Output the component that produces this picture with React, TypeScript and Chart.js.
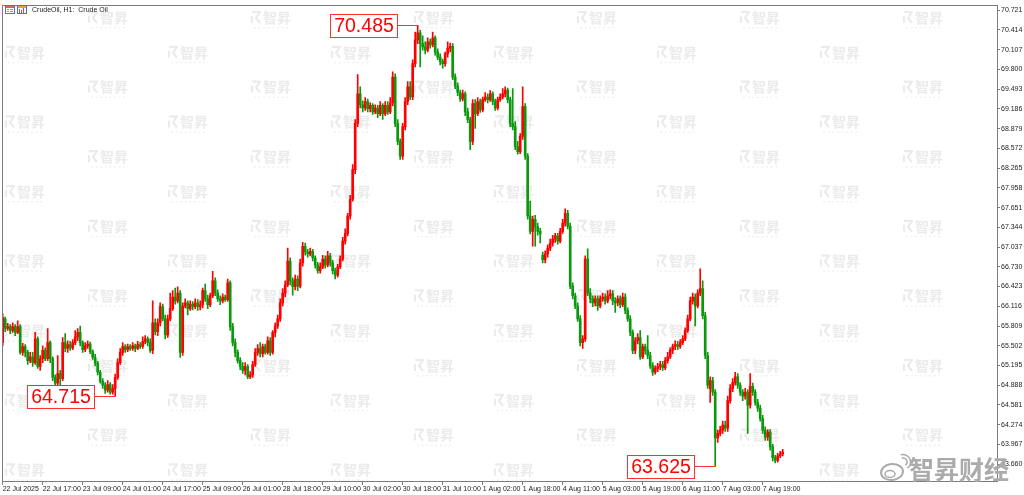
import React, { useEffect, useRef } from "react";
import { Chart, registerables } from "chart.js";

Chart.register(...registerables);

// ---- Data (CrudeOil, H1) ----
const opens = [
  65.55, 65.92, 65.77, 65.80, 65.74, 65.80, 65.71, 65.80, 65.40, 65.49,
  65.40, 65.27, 65.33, 65.24, 65.61, 65.18, 65.30, 65.43, 65.30, 65.55,
  65.30, 65.01, 64.92, 65.07, 64.99, 65.55, 65.46, 65.52, 65.47, 65.55,
  65.64, 65.71, 65.55, 65.44, 65.50, 65.53, 65.41, 65.32, 65.23, 65.09,
  64.95, 64.89, 64.81, 64.90, 64.78, 64.84, 65.01, 65.24, 65.40, 65.49,
  65.44, 65.49, 65.46, 65.50, 65.46, 65.52, 65.49, 65.57, 65.61, 65.55,
  65.43, 65.86, 65.72, 65.86, 66.11, 65.92, 65.67, 65.92, 66.08, 66.26,
  66.20, 66.32, 65.40, 66.12, 66.17, 66.08, 66.15, 66.11, 66.17, 66.11,
  66.14, 66.36, 66.23, 66.14, 66.28, 66.51, 66.32, 66.23, 66.20, 66.26,
  66.22, 66.48, 65.80, 65.55, 65.40, 65.27, 65.18, 65.12, 65.18, 65.02,
  65.05, 65.21, 65.40, 65.46, 65.38, 65.49, 65.40, 65.58, 65.40, 65.71,
  65.81, 65.92, 66.17, 66.32, 66.45, 66.82, 66.51, 66.42, 66.54, 66.43,
  66.79, 67.05, 66.96, 66.93, 66.97, 66.87, 66.76, 66.67, 66.73, 66.85,
  66.76, 66.90, 66.79, 66.67, 66.60, 66.73, 66.85, 67.13, 67.25, 67.52,
  67.78, 68.24, 68.96, 69.42, 69.25, 69.20, 69.30, 69.19, 69.24, 69.14,
  69.20, 69.11, 69.24, 69.11, 69.24, 69.14, 69.28, 69.68, 68.96, 68.68,
  68.45, 68.91, 69.30, 69.53, 69.37, 69.89, 70.26, 70.37, 70.20, 70.15,
  70.10, 70.23, 70.18, 70.29, 70.07, 69.99, 69.92, 69.89, 70.04, 70.13,
  70.16, 69.68, 69.54, 69.44, 69.34, 69.42, 69.14, 69.02, 68.68, 69.27,
  69.11, 69.30, 69.17, 69.33, 69.37, 69.33, 69.42, 69.30, 69.20, 69.33,
  69.37, 69.42, 69.48, 69.33, 68.96, 68.91, 68.60, 68.52, 68.76, 69.22,
  68.45, 67.52, 67.28, 67.47, 67.35, 67.28, 66.91, 66.84, 66.93, 67.02,
  67.10, 67.16, 67.21, 67.13, 67.28, 67.41, 67.56, 67.36, 66.43, 66.28,
  66.12, 65.92, 65.55, 65.61, 66.85, 66.32, 66.23, 66.17, 66.23, 66.12,
  66.23, 66.26, 66.20, 66.28, 66.31, 66.20, 66.17, 66.23, 66.14, 66.26,
  66.05, 65.92, 65.71, 65.43, 65.58, 65.63, 65.33, 65.49, 65.43, 65.35,
  65.19, 65.09, 65.15, 65.18, 65.21, 65.16, 65.27, 65.33, 65.43, 65.49,
  65.52, 65.49, 65.55, 65.61, 65.74, 65.92, 66.20, 66.26, 66.12, 66.32,
  66.39, 65.97, 65.35, 64.84, 64.96, 64.78, 64.07, 64.14, 64.19, 64.27,
  64.22, 64.65, 64.84, 64.93, 65.02, 64.89, 64.78, 64.72, 64.78, 64.58,
  64.87, 64.78, 64.62, 64.53, 64.37, 64.19, 64.08, 64.16, 63.93, 63.76,
  63.72, 63.79, 63.82,
];

const highs = [
  66.00, 65.95, 65.85, 65.83, 65.86, 65.83, 65.89, 65.83, 65.54, 65.52,
  65.43, 65.40, 65.40, 65.71, 65.64, 65.35, 65.50, 65.47, 65.77, 65.58,
  65.33, 65.05, 65.35, 65.12, 65.63, 65.69, 65.58, 65.57, 65.60, 65.74,
  65.77, 65.81, 65.58, 65.55, 65.58, 65.56, 65.44, 65.37, 65.26, 65.12,
  64.99, 64.93, 64.96, 64.93, 64.90, 65.06, 65.30, 65.46, 65.55, 65.52,
  65.53, 65.52, 65.55, 65.53, 65.57, 65.55, 65.64, 65.66, 65.64, 65.61,
  66.20, 65.92, 65.92, 66.17, 66.15, 65.98, 65.98, 66.32, 66.36, 66.40,
  66.42, 66.36, 66.17, 66.23, 66.20, 66.20, 66.19, 66.23, 66.22, 66.20,
  66.40, 66.46, 66.29, 66.32, 66.66, 66.56, 66.37, 66.28, 66.31, 66.29,
  66.54, 66.51, 65.85, 65.61, 65.44, 65.32, 65.24, 65.24, 65.21, 65.10,
  65.26, 65.46, 65.52, 65.55, 65.53, 65.53, 65.64, 65.63, 65.74, 65.86,
  65.98, 66.23, 66.39, 66.51, 67.02, 66.87, 66.56, 66.60, 66.59, 66.85,
  67.11, 67.10, 67.00, 67.02, 67.00, 66.90, 66.80, 66.79, 66.91, 66.90,
  66.97, 66.94, 66.83, 66.71, 66.77, 66.90, 67.19, 67.32, 67.56, 67.84,
  68.32, 69.02, 69.72, 69.53, 69.31, 69.36, 69.34, 69.28, 69.27, 69.25,
  69.24, 69.30, 69.27, 69.30, 69.30, 69.36, 69.76, 69.73, 69.02, 68.72,
  68.96, 69.36, 69.61, 69.61, 69.95, 70.38, 70.485, 70.41, 70.32, 70.23,
  70.29, 70.27, 70.38, 70.32, 70.12, 70.04, 69.96, 70.07, 70.23, 70.21,
  70.20, 69.73, 69.59, 69.48, 69.48, 69.45, 69.20, 69.06, 69.33, 69.33,
  69.36, 69.34, 69.37, 69.44, 69.42, 69.47, 69.45, 69.34, 69.37, 69.42,
  69.50, 69.53, 69.51, 69.37, 69.50, 68.99, 68.68, 68.80, 69.53, 69.27,
  68.49, 67.75, 67.52, 67.53, 67.41, 67.33, 66.96, 66.98, 67.07, 67.16,
  67.22, 67.25, 67.25, 67.33, 67.47, 67.63, 67.61, 67.41, 66.48, 66.32,
  66.17, 65.97, 65.66, 66.90, 67.01, 66.39, 66.28, 66.28, 66.28, 66.28,
  66.32, 66.31, 66.36, 66.37, 66.36, 66.25, 66.28, 66.28, 66.32, 66.31,
  66.09, 65.97, 65.75, 65.63, 65.69, 65.74, 65.53, 65.53, 65.66, 65.40,
  65.24, 65.19, 65.23, 65.26, 65.26, 65.32, 65.40, 65.47, 65.53, 65.58,
  65.57, 65.60, 65.66, 65.78, 65.98, 66.26, 66.32, 66.31, 66.37, 66.70,
  66.51, 66.02, 65.40, 65.02, 65.01, 64.82, 64.19, 64.25, 64.33, 64.33,
  64.72, 64.90, 64.99, 65.09, 65.07, 64.93, 64.82, 64.84, 64.82, 65.07,
  64.92, 64.82, 64.67, 64.58, 64.42, 64.24, 64.20, 64.20, 63.97, 63.80,
  63.83, 63.86, 63.89,
];

const lows = [
  65.50, 65.72, 65.74, 65.69, 65.71, 65.66, 65.69, 65.37, 65.35, 65.33,
  65.21, 65.24, 65.18, 65.21, 65.15, 65.12, 65.24, 65.27, 65.27, 65.24,
  64.96, 64.87, 64.89, 64.81, 64.96, 65.41, 65.40, 65.43, 65.44, 65.52,
  65.58, 65.50, 65.40, 65.41, 65.46, 65.38, 65.29, 65.19, 65.05, 64.92,
  64.84, 64.76, 64.78, 64.75, 64.75, 64.715, 64.98, 65.21, 65.35, 65.40,
  65.41, 65.43, 65.43, 65.41, 65.44, 65.46, 65.46, 65.53, 65.50, 65.40,
  65.38, 65.67, 65.66, 65.81, 65.89, 65.61, 65.63, 65.89, 66.05, 66.15,
  66.17, 65.32, 65.35, 66.09, 65.98, 66.05, 66.06, 66.08, 66.05, 66.06,
  66.09, 66.19, 66.08, 66.11, 66.25, 66.28, 66.19, 66.14, 66.17, 66.19,
  66.19, 65.74, 65.50, 65.33, 65.23, 65.13, 65.07, 65.05, 64.99, 64.99,
  65.01, 65.18, 65.35, 65.33, 65.33, 65.37, 65.37, 65.35, 65.37, 65.64,
  65.77, 65.88, 66.12, 66.26, 66.42, 66.45, 66.29, 66.37, 66.36, 66.40,
  66.74, 66.91, 66.88, 66.90, 66.82, 66.71, 66.63, 66.63, 66.70, 66.71,
  66.73, 66.74, 66.62, 66.54, 66.57, 66.70, 66.82, 67.08, 67.21, 67.47,
  67.75, 68.18, 68.91, 69.20, 69.14, 69.16, 69.14, 69.14, 69.10, 69.11,
  69.05, 69.08, 69.02, 69.08, 69.10, 69.11, 69.23, 68.91, 68.63, 68.40,
  68.40, 68.86, 69.25, 69.33, 69.33, 69.84, 70.20, 69.84, 70.10, 70.04,
  70.07, 70.13, 70.15, 70.02, 69.95, 69.87, 69.82, 69.85, 69.99, 70.07,
  69.64, 69.50, 69.39, 69.30, 69.31, 69.08, 68.97, 68.55, 68.63, 68.88,
  69.08, 69.13, 69.14, 69.30, 69.28, 69.30, 69.25, 69.16, 69.17, 69.30,
  69.34, 69.37, 69.28, 68.91, 68.86, 68.55, 68.48, 68.49, 68.71, 68.40,
  67.47, 67.24, 67.05, 67.05, 67.22, 67.10, 66.79, 66.79, 66.88, 66.98,
  67.05, 67.11, 67.08, 67.10, 67.25, 67.36, 67.32, 66.39, 66.23, 66.08,
  65.88, 65.50, 65.46, 65.57, 66.28, 66.17, 66.11, 66.12, 66.05, 66.09,
  66.19, 66.15, 66.17, 66.23, 66.14, 66.02, 66.12, 66.09, 66.11, 66.00,
  65.88, 65.66, 65.38, 65.38, 65.53, 65.29, 65.30, 65.37, 65.30, 65.15,
  65.04, 65.06, 65.10, 65.13, 65.12, 65.13, 65.23, 65.30, 65.38, 65.44,
  65.44, 65.46, 65.52, 65.58, 65.71, 65.89, 66.15, 65.81, 66.09, 66.28,
  65.92, 65.30, 64.84, 64.62, 64.73, 63.625, 64.00, 64.10, 64.14, 64.17,
  64.17, 64.61, 64.79, 64.89, 64.84, 64.73, 64.65, 64.67, 64.14, 64.53,
  64.73, 64.58, 64.48, 64.33, 64.14, 64.03, 64.03, 63.88, 63.71, 63.68,
  63.69, 63.76, 63.79,
];

const closes = [
  65.94, 65.77, 65.80, 65.74, 65.80, 65.71, 65.80, 65.40, 65.49, 65.40,
  65.27, 65.33, 65.24, 65.61, 65.18, 65.30, 65.43, 65.30, 65.55, 65.30,
  65.01, 64.92, 65.07, 64.99, 65.55, 65.46, 65.52, 65.47, 65.55, 65.64,
  65.71, 65.55, 65.44, 65.50, 65.53, 65.41, 65.32, 65.23, 65.09, 64.95,
  64.89, 64.81, 64.90, 64.78, 64.84, 65.01, 65.24, 65.40, 65.49, 65.44,
  65.49, 65.46, 65.50, 65.46, 65.52, 65.49, 65.57, 65.61, 65.55, 65.43,
  65.86, 65.72, 65.86, 66.11, 65.92, 65.67, 65.92, 66.08, 66.26, 66.20,
  66.32, 65.40, 66.12, 66.17, 66.08, 66.15, 66.11, 66.17, 66.11, 66.14,
  66.36, 66.23, 66.14, 66.28, 66.51, 66.32, 66.23, 66.20, 66.26, 66.22,
  66.48, 65.80, 65.55, 65.40, 65.27, 65.18, 65.12, 65.18, 65.02, 65.05,
  65.21, 65.40, 65.46, 65.38, 65.49, 65.40, 65.58, 65.40, 65.71, 65.81,
  65.92, 66.17, 66.32, 66.45, 66.82, 66.51, 66.42, 66.54, 66.43, 66.79,
  67.05, 66.96, 66.93, 66.97, 66.87, 66.76, 66.67, 66.73, 66.85, 66.76,
  66.90, 66.79, 66.67, 66.60, 66.73, 66.85, 67.13, 67.25, 67.52, 67.78,
  68.24, 68.96, 69.42, 69.25, 69.20, 69.30, 69.19, 69.24, 69.14, 69.20,
  69.11, 69.24, 69.11, 69.24, 69.14, 69.28, 69.68, 68.96, 68.68, 68.45,
  68.91, 69.30, 69.53, 69.37, 69.89, 70.26, 70.37, 70.20, 70.15, 70.10,
  70.23, 70.18, 70.29, 70.07, 69.99, 69.92, 69.89, 70.04, 70.13, 70.16,
  69.68, 69.54, 69.44, 69.34, 69.42, 69.14, 69.02, 68.68, 69.27, 69.11,
  69.30, 69.17, 69.33, 69.37, 69.33, 69.42, 69.30, 69.20, 69.33, 69.37,
  69.42, 69.48, 69.33, 68.96, 68.91, 68.60, 68.52, 68.76, 69.22, 68.45,
  67.52, 67.28, 67.47, 67.35, 67.28, 67.24, 66.84, 66.93, 67.02, 67.10,
  67.16, 67.21, 67.13, 67.28, 67.41, 67.56, 67.36, 66.43, 66.28, 66.12,
  65.92, 65.55, 65.61, 66.85, 66.32, 66.23, 66.17, 66.23, 66.12, 66.23,
  66.26, 66.20, 66.28, 66.31, 66.20, 66.17, 66.23, 66.14, 66.26, 66.05,
  65.92, 65.71, 65.43, 65.58, 65.63, 65.33, 65.49, 65.43, 65.35, 65.19,
  65.09, 65.15, 65.18, 65.21, 65.16, 65.27, 65.33, 65.43, 65.49, 65.52,
  65.49, 65.55, 65.61, 65.74, 65.92, 66.20, 66.26, 66.12, 66.32, 66.39,
  65.97, 65.35, 64.89, 64.96, 64.78, 64.07, 64.14, 64.19, 64.27, 64.22,
  64.65, 64.84, 64.93, 65.02, 64.89, 64.78, 64.72, 64.78, 64.58, 64.87,
  64.78, 64.62, 64.53, 64.37, 64.19, 64.08, 64.16, 63.93, 63.76, 63.72,
  63.79, 63.82, 63.85,
];

const xTickLabels = [
  "22 Jul 2025", "22 Jul 17:00", "23 Jul 09:00", "24 Jul 01:00", "24 Jul 17:00",
  "25 Jul 09:00", "26 Jul 01:00", "28 Jul 18:00", "29 Jul 10:00", "30 Jul 02:00",
  "30 Jul 18:00", "31 Jul 10:00", "1 Aug 02:00", "1 Aug 18:00", "4 Aug 11:00",
  "5 Aug 03:00", "5 Aug 19:00", "6 Aug 11:00", "7 Aug 03:00", "7 Aug 19:00",
];
const xTickBarStep = 16;

const yTickLabels = [
  "70.721", "70.414", "70.107", "69.800", "69.493", "69.186", "68.879", "68.572",
  "68.265", "67.958", "67.651", "67.344", "67.037", "66.730", "66.423", "66.116",
  "65.809", "65.502", "65.195", "64.888", "64.581", "64.274", "63.967", "63.660",
];

// marked extremes: bar index and price
const markBars = [166, 45, 285];
const markPrices = [70.485, 64.715, 63.625];

const titleText = "CrudeOil, H1:  Crude Oil";
const logoText = "智昇财经";
const watermarkText = "智昇";

const UP = "#ff0000";
const DOWN = "#0c980c";
const FRAME = "#7c7c7c";
const FONT = "'Liberation Sans', Arial, sans-serif";
const CJK = "'Noto Sans CJK SC', sans-serif";

function drawWatermark(ctx: CanvasRenderingContext2D, cx: number, cy: number) {
  ctx.save();
  ctx.fillStyle = "#ebebeb";
  ctx.strokeStyle = "#ebebeb";
  ctx.lineWidth = 2.2;
  ctx.lineJoin = "round";
  // logo mark
  ctx.beginPath();
  ctx.moveTo(cx - 19, cy - 5);
  ctx.lineTo(cx - 11, cy - 5);
  ctx.lineTo(cx - 15, cy + 1);
  ctx.lineTo(cx - 11, cy + 6);
  ctx.stroke();
  ctx.beginPath();
  ctx.moveTo(cx - 19, cy - 1);
  ctx.lineTo(cx - 19, cy + 6);
  ctx.stroke();
  ctx.font = `bold 14px ${CJK}`;
  ctx.textAlign = "left";
  ctx.textBaseline = "middle";
  ctx.fillText(watermarkText, cx - 8, cy + 0.5);
  ctx.fillStyle = "#f1f1f1";
  for (let k = 0; k < 8; k++) {
    ctx.fillRect(cx - 17 + k * 4.6, cy + 10, 2, 1.5);
  }
  ctx.restore();
}

const decorPlugin = {
  id: "decor",
  beforeDatasetsDraw(chart: any) {
    const ctx: CanvasRenderingContext2D = chart.ctx;
    const a = chart.chartArea;
    ctx.save();
    ctx.beginPath();
    ctx.rect(a.left, a.top, a.right - a.left, a.bottom - a.top);
    ctx.clip();
    for (let r = 0; r < 14; r++) {
      const cy = 17 + r * 34.8;
      const x0 = r % 2 === 0 ? 108 : 25;
      for (let c = 0; c < 6; c++) {
        drawWatermark(ctx, x0 + c * 163, cy);
      }
    }
    ctx.restore();
  },
  afterDatasetsDraw(chart: any) {
    const ctx: CanvasRenderingContext2D = chart.ctx;
    const xs = chart.scales.x;
    const ys = chart.scales.y;
    const a = chart.chartArea;
    // frame
    ctx.save();
    ctx.strokeStyle = FRAME;
    ctx.lineWidth = 1;
    ctx.strokeRect(Math.round(a.left) + 0.5, Math.round(a.top) + 0.5, Math.round(a.right - a.left), Math.round(a.bottom - a.top));
    ctx.restore();
    // price marks
    markBars.forEach((bar, k) => {
      const price = markPrices[k];
      const px = xs.getPixelForValue(bar);
      const py = ys.getPixelForValue(price);
      const text = price.toFixed(3);
      ctx.save();
      ctx.font = `19.5px ${FONT}`;
      const tw = ctx.measureText(text).width;
      const boxW = Math.round(tw + 7);
      const boxH = 23;
      const right = Math.round(px - 21);
      const left = right - boxW;
      const top = Math.round(py - boxH / 2);
      ctx.strokeStyle = "#ff3030";
      ctx.lineWidth = 1;
      ctx.beginPath();
      ctx.moveTo(right, Math.round(py) + 0.5);
      ctx.lineTo(px, Math.round(py) + 0.5);
      ctx.stroke();
      ctx.fillStyle = "#ffffff";
      ctx.fillRect(left, top, boxW, boxH);
      ctx.strokeRect(left + 0.5, top + 0.5, boxW, boxH);
      ctx.fillStyle = "#ff0000";
      ctx.textAlign = "center";
      ctx.textBaseline = "middle";
      ctx.fillText(text, left + boxW / 2 + 0.5, top + boxH / 2 + 1);
      ctx.restore();
    });
  },
  afterDraw(chart: any) {
    const ctx: CanvasRenderingContext2D = chart.ctx;
    ctx.save();
    // title icons
    ctx.strokeStyle = "#4a78c8";
    ctx.lineWidth = 1;
    ctx.strokeRect(5.5, 5.5, 9, 8);
    ctx.fillStyle = "#e8603c";
    ctx.fillRect(6, 6, 8, 2);
    ctx.fillStyle = "#6f95d8";
    ctx.fillRect(7, 9, 2, 1);
    ctx.fillRect(10, 9, 3, 1);
    ctx.fillRect(7, 11, 2, 1);
    ctx.fillRect(10, 11, 3, 1);
    ctx.strokeStyle = "#3f74d0";
    ctx.strokeRect(17.5, 5.5, 9, 8);
    ctx.fillStyle = "#f0a030";
    ctx.fillRect(18, 6, 8, 2);
    ctx.fillStyle = "#e84040";
    ctx.fillRect(19, 9, 1, 4);
    ctx.fillRect(23, 8, 1, 5);
    ctx.fillStyle = "#3f74d0";
    ctx.fillRect(21, 10, 1, 3);
    ctx.fillStyle = "#222222";
    ctx.font = `7px ${FONT}`;
    ctx.textAlign = "left";
    ctx.textBaseline = "middle";
    ctx.fillText(titleText, 32, 10);
    // bottom-right logo
    ctx.strokeStyle = "#ababab";
    ctx.lineWidth = 2;
    ctx.beginPath();
    ctx.ellipse(892, 472, 11, 8, -0.1, 0, Math.PI * 2);
    ctx.stroke();
    ctx.lineWidth = 1.5;
    ctx.beginPath();
    ctx.ellipse(890, 474, 5, 3.5, 0, 0, Math.PI * 2);
    ctx.stroke();
    ctx.beginPath();
    ctx.arc(903, 462, 4, -Math.PI * 0.6, Math.PI * 0.3);
    ctx.stroke();
    ctx.beginPath();
    ctx.arc(903, 462, 7.5, -Math.PI * 0.6, Math.PI * 0.3);
    ctx.stroke();
    ctx.fillStyle = "#ababab";
    ctx.font = `bold 25px ${CJK}`;
    ctx.textAlign = "left";
    ctx.textBaseline = "middle";
    ctx.fillText(logoText, 909, 469);
    ctx.restore();
  },
};

export default function App() {
  const ref = useRef<HTMLCanvasElement | null>(null);

  useEffect(() => {
    if (!ref.current) return;
    const n = Math.min(opens.length, highs.length, lows.length, closes.length);
    const idx = Array.from({ length: n }, (_, i) => i);
    const colors = idx.map((i) => (closes[i] >= opens[i] ? UP : DOWN));
    const bodies = idx.map((i) => ({ x: i, y: [opens[i], closes[i]] }));
    const wicks = idx.map((i) => ({ x: i, y: [lows[i], highs[i]] }));

    const chart = new Chart(ref.current, {
      type: "bar",
      data: {
        datasets: [
          {
            data: bodies as any,
            backgroundColor: colors,
            borderWidth: 0,
            barThickness: 2,
            minBarLength: 1,
            grouped: false,
          } as any,
          {
            data: wicks as any,
            backgroundColor: colors,
            borderWidth: 0,
            barThickness: 1,
            minBarLength: 1,
            grouped: false,
          } as any,
        ],
      },
      options: {
        animation: false,
        responsive: false,
        maintainAspectRatio: false,
        events: [],
        layout: { padding: { top: 3, left: 2, right: 0, bottom: 0 } },
        plugins: {
          legend: { display: false },
          tooltip: { enabled: false },
          title: { display: false },
        },
        scales: {
          x: {
            type: "linear",
            min: -0.28,
            max: 397.72,
            offset: false,
            afterBuildTicks: (s: any) => {
              s.ticks = xTickLabels.map((_, k) => ({ value: k * xTickBarStep }));
            },
            afterFit: (s: any) => {
              s.height = 14;
            },
            grid: {
              display: true,
              drawOnChartArea: false,
              drawTicks: true,
              tickLength: 4,
              color: FRAME,
              offset: false,
            },
            border: { display: true, color: FRAME },
            ticks: {
              autoSkip: false,
              maxRotation: 0,
              minRotation: 0,
              align: "start",
              padding: 0,
              color: "#222222",
              font: { family: FONT, size: 7 },
              callback: (_v: any, i: number) => xTickLabels[i],
            },
          } as any,
          y: {
            type: "linear",
            position: "right",
            min: 63.399,
            max: 70.798,
            afterBuildTicks: (s: any) => {
              s.ticks = yTickLabels.map((t) => ({ value: parseFloat(t) }));
            },
            afterFit: (s: any) => {
              s.width = 27;
            },
            grid: {
              display: true,
              drawOnChartArea: false,
              drawTicks: true,
              tickLength: 3,
              color: FRAME,
            },
            border: { display: true, color: FRAME },
            ticks: {
              autoSkip: false,
              padding: 1,
              color: "#222222",
              font: { family: FONT, size: 7 },
              callback: (_v: any, i: number) => yTickLabels[i],
            },
          } as any,
        },
      },
      plugins: [decorPlugin],
    });
    return () => chart.destroy();
  }, []);

  return (
    <div style={{ position: "absolute", left: 0, top: 0, width: 1024, height: 495, background: "#ffffff" }}>
      <canvas ref={ref} width={1024} height={495} style={{ display: "block", width: 1024, height: 495 }} />
    </div>
  );
}
